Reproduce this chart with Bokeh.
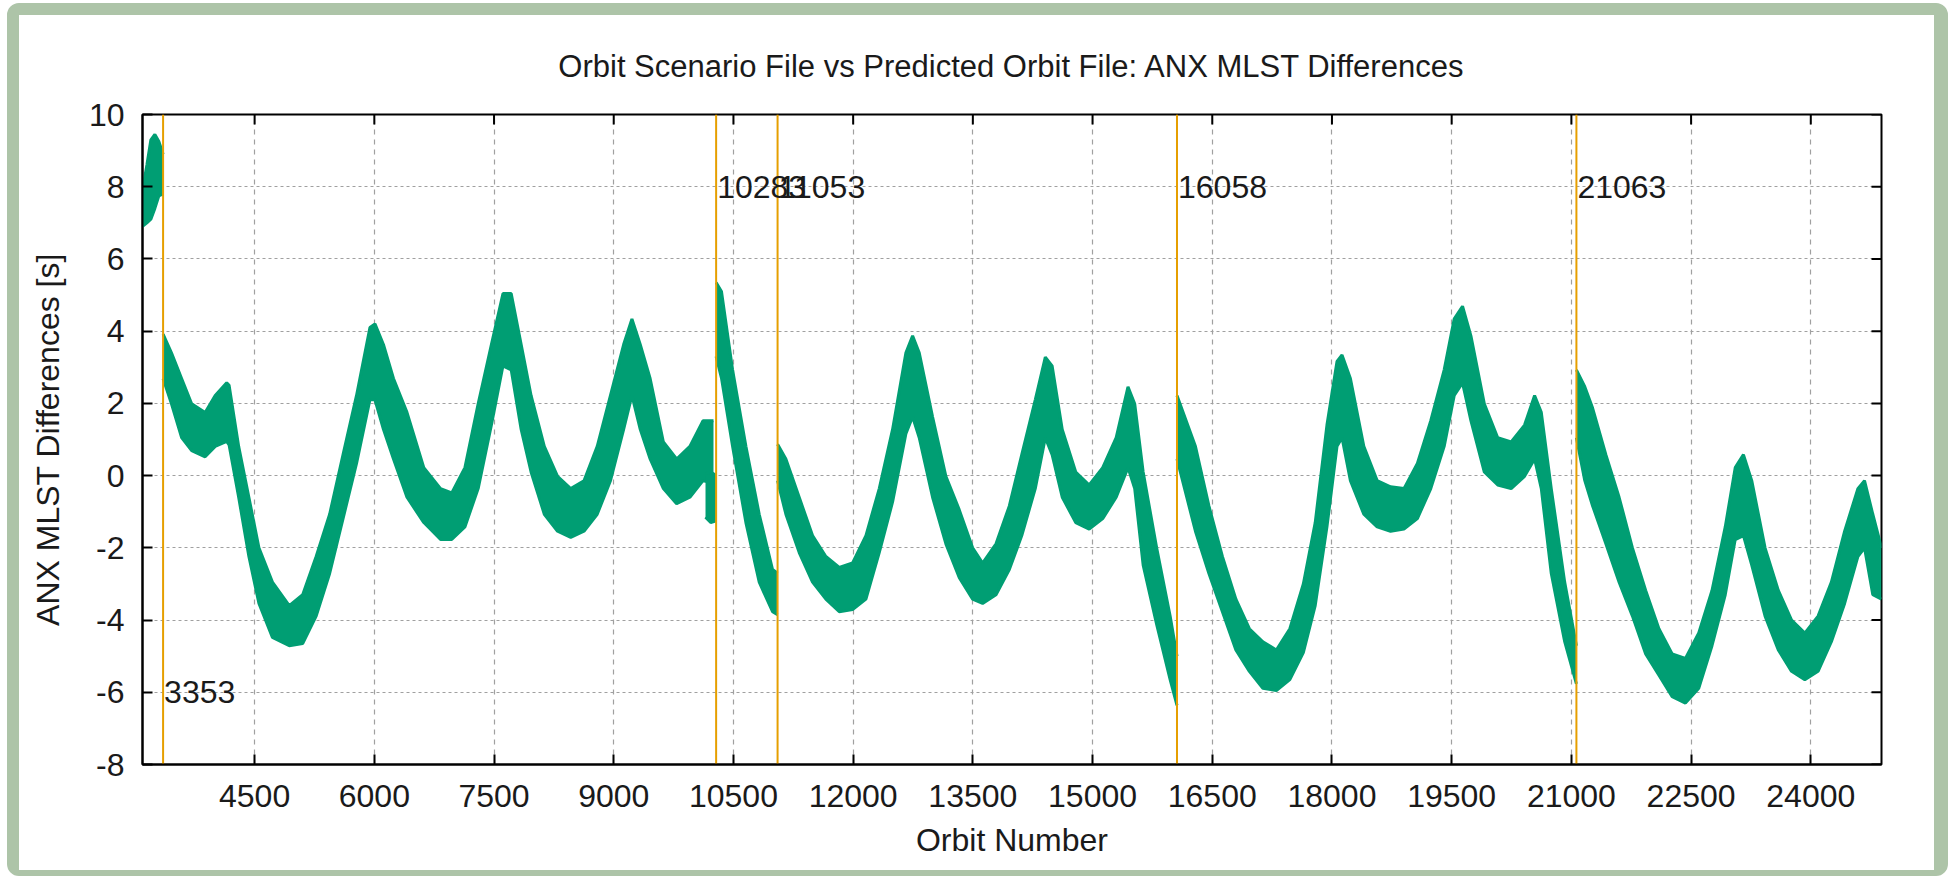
import math
from bokeh.plotting import figure
from bokeh.models import Range1d, FixedTicker, Title, ColumnDataSource
from bokeh.core.properties import value
from bokeh.embed import file_html
from bokeh.resources import INLINE

# ---------------- data ----------------
title_text = "Orbit Scenario File vs Predicted Orbit File: ANX MLST Differences"
x_label = "Orbit Number"
y_label = "ANX MLST Differences [s]"

x_ticks = [4500, 6000, 7500, 9000, 10500, 12000, 13500, 15000, 16500, 18000, 19500, 21000, 22500, 24000]
y_ticks = [-8, -6, -4, -2, 0, 2, 4, 6, 8, 10]

# orange marker lines and their labels
vline_orbits = [3353, 10283, 11053, 16058, 21063]
vline_label_y = [-6, 8, 8, 8, 8]

# band envelopes (upper / lower edge of the dense cloud of points) per segment
segA_orbit = [3095, 3150, 3200, 3250, 3300, 3353]
segA_upper = [7.9, 8.6, 9.3, 9.45, 9.25, 8.9]
segA_lower = [6.9, 7.0, 7.1, 7.4, 7.75, 7.8]

segB_orbit = [3353, 3458, 3585, 3711, 3880, 4006, 4150, 4180, 4300, 4428, 4554, 4723, 4934, 5102,
              5271, 5440, 5608, 5777, 5945, 6008, 6114, 6240, 6409, 6620, 6830, 6970, 7135, 7301,
              7467, 7612, 7715, 7840, 7964, 8130, 8296, 8461, 8627, 8793, 8959, 9124, 9228, 9332,
              9456, 9622, 9788, 9954, 10119, 10250]
segB_upper = [3.92, 3.40, 2.69, 1.99, 1.75, 2.22, 2.57, 2.5, 0.81, -0.6, -2.0, -2.95, -3.6, -3.3,
              -2.24, -1.07, 0.58, 2.22, 4.1, 4.2, 3.63, 2.69, 1.75, 0.22, -0.36, -0.48, 0.22, 1.99,
              3.63, 5.04, 5.04, 3.63, 2.22, 0.81, -0.02, -0.36, -0.14, 0.81, 2.22, 3.63, 4.34, 3.63,
              2.69, 0.93, 0.46, 0.81, 1.52, 1.52]
segB_lower = [2.69, 1.99, 1.05, 0.69, 0.52, 0.81, 0.95, 0.85, -0.6, -2.24, -3.54, -4.48, -4.71, -4.65,
              -3.89, -2.71, -1.19, 0.34, 2.1, 2.1, 1.28, 0.46, -0.6, -1.3, -1.77, -1.77, -1.42, -0.36,
              1.4, 3.04, 2.93, 1.28, 0.1, -1.07, -1.54, -1.71, -1.54, -1.07, -0.14, 1.28, 2.22, 1.28,
              0.46, -0.36, -0.78, -0.6, -0.14, -0.2]

segC_orbit = [10150, 10215, 10283]
segC_upper = [0.05, 0.1, 0.0]
segC_lower = [-1.15, -1.3, -1.25]

segD_orbit = [10283, 10350, 10489, 10656, 10823, 10990, 11053]
segD_upper = [5.35, 5.1, 2.93, 0.81, -1.07, -2.6, -2.7]
segD_lower = [3.3, 2.7, 0.81, -1.3, -2.95, -3.77, -3.85]

segE_orbit = [11053, 11157, 11324, 11491, 11658, 11826, 11993, 12160, 12327, 12494, 12661, 12745,
              12828, 12995, 13162, 13330, 13497, 13622, 13790, 13957, 14113, 14282, 14408, 14493,
              14620, 14789, 14958, 15127, 15296, 15444, 15528, 15634, 15803, 15972, 16058]
segE_upper = [0.87, 0.46, -0.6, -1.66, -2.24, -2.54, -2.42, -1.66, -0.36, 1.28, 3.4, 3.87,
              3.4, 1.63, -0.02, -0.95, -2.0, -2.42, -1.89, -0.84, 0.58, 2.1, 3.28, 3.04,
              1.28, 0.1, -0.26, 0.22, 1.05, 2.46, 1.99, 0.1, -2.0, -3.89, -5.0]
segE_lower = [-0.14, -1.07, -2.13, -2.95, -3.42, -3.77, -3.71, -3.42, -2.13, -0.73, 1.16, 1.63,
              1.05, -0.6, -1.89, -2.83, -3.42, -3.54, -3.3, -2.6, -1.66, -0.36, 1.05, 0.58,
              -0.6, -1.3, -1.48, -1.19, -0.6, 0.22, -0.36, -2.48, -4.12, -5.65, -6.36]

segF_orbit = [16058, 16289, 16458, 16627, 16796, 16965, 17134, 17303, 17472, 17641, 17790, 17937,
              18063, 18126, 18231, 18399, 18566, 18734, 18902, 19070, 19238, 19406, 19532, 19636,
              19741, 19909, 20077, 20245, 20413, 20539, 20623, 20748, 20916, 21063]
segF_upper = [2.22, 0.81, -0.84, -2.24, -3.42, -4.24, -4.6, -4.83, -4.24, -3.0, -1.3, 1.4,
              3.16, 3.34, 2.69, 0.81, -0.14, -0.31, -0.36, 0.34, 1.52, 2.93, 4.34, 4.69,
              3.87, 1.99, 1.05, 0.93, 1.4, 2.22, 1.75, -0.36, -2.95, -4.71]
segF_lower = [0.46, -1.54, -2.71, -3.77, -4.83, -5.42, -5.89, -5.95, -5.65, -4.9, -3.6, -1.42,
              0.81, 1.05, -0.14, -1.07, -1.42, -1.54, -1.48, -1.19, -0.36, 0.81, 2.22, 2.57,
              1.52, 0.1, -0.26, -0.36, -0.02, 0.46, -0.36, -2.71, -4.6, -5.77]

segG_orbit = [21063, 21168, 21266, 21432, 21598, 21765, 21931, 22097, 22263, 22429, 22596, 22762,
              22928, 23053, 23156, 23260, 23427, 23593, 23759, 23925, 24091, 24258, 24424, 24590,
              24673, 24777, 24886]
segG_upper = [2.93, 2.46, 1.87, 0.58, -0.6, -2.0, -3.18, -4.24, -4.94, -5.06, -4.36, -3.18,
              -1.42, 0.22, 0.58, -0.14, -2.0, -3.18, -4.0, -4.36, -3.89, -2.95, -1.54, -0.36,
              -0.14, -1.07, -2.0]
segG_lower = [1.05, -0.14, -0.84, -1.89, -2.95, -3.89, -4.94, -5.53, -6.12, -6.3, -5.89, -4.71,
              -3.3, -1.77, -1.66, -2.48, -3.89, -4.83, -5.42, -5.65, -5.42, -4.6, -3.54, -2.24,
              -2.0, -3.3, -3.42]

segments = [
    (segA_orbit, segA_upper, segA_lower),
    (segB_orbit, segB_upper, segB_lower),
    (segC_orbit, segC_upper, segC_lower),
    (segD_orbit, segD_upper, segD_lower),
    (segE_orbit, segE_upper, segE_lower),
    (segF_orbit, segF_upper, segF_lower),
    (segG_orbit, segG_upper, segG_lower),
]

X_MIN, X_MAX = 3095, 24886
Y_MIN, Y_MAX = -8, 10

# ---------------- styling ----------------
FONT = "Liberation Sans"
FS = "32px"
GREEN = "#009e73"
ORANGE = "#e69f00"
TEXT = "#1a1a1a"

p = figure(width=1941, height=873,
           x_range=Range1d(X_MIN, X_MAX), y_range=Range1d(Y_MIN, Y_MAX),
           output_backend="svg", toolbar_location=None,
           min_border_left=123, min_border_right=79, min_border_top=95, min_border_bottom=124,
           background_fill_color="white", border_fill_color="white")

# green rounded frame around the whole picture
p.styles = {"border-style": "solid", "border-color": "#adc4a8",
            "border-width": "12px 14px 6px 12px", "border-radius": "12px",
            "box-sizing": "border-box", "margin-left": "7px", "margin-top": "3px"}

p.outline_line_color = "black"
p.outline_line_width = 2

# grid
p.xgrid.ticker = FixedTicker(ticks=x_ticks)
p.ygrid.ticker = FixedTicker(ticks=y_ticks)
p.xgrid.grid_line_color = "#a0a0a0"
p.ygrid.grid_line_color = "#a0a0a0"
p.xgrid.grid_line_dash = "5 5"
p.ygrid.grid_line_dash = "3 3"
p.xgrid.grid_line_width = 1.2
p.ygrid.grid_line_width = 1.2

# axes
for ax in (p.xaxis[0], p.yaxis[0]):
    ax.major_tick_in = 10
    ax.major_tick_out = 0
    ax.minor_tick_line_color = None
    ax.axis_line_width = 2
    ax.major_tick_line_width = 2
    ax.major_label_text_font = FONT
    ax.major_label_text_font_size = FS
    ax.major_label_text_color = TEXT
    ax.axis_label_text_font = FONT
    ax.axis_label_text_font_size = FS
    ax.axis_label_text_font_style = "normal"
    ax.axis_label_text_color = TEXT

p.xaxis.ticker = FixedTicker(ticks=x_ticks)
p.yaxis.ticker = FixedTicker(ticks=y_ticks)
p.yaxis.major_label_overrides = {t: str(t) for t in y_ticks}
p.xaxis.axis_label = x_label
p.yaxis.axis_label = y_label
p.xaxis.major_label_standoff = 20
p.xaxis.axis_label_standoff = 12
p.yaxis.major_label_standoff = 18
p.yaxis.axis_label_standoff = 20

p.add_layout(Title(text=title_text, align="center", text_font=FONT, text_font_size="31px",
                   text_font_style="normal", text_color=TEXT, standoff=62), "above")

# mirrored tick marks on the top and right edges (half of each dash is clipped by the frame)
p.scatter(x=x_ticks, y=[Y_MAX] * len(x_ticks), marker="dash", size=20, angle=math.pi / 2,
          line_color="black", line_width=2)
p.scatter(x=[X_MAX] * len(y_ticks), y=y_ticks, marker="dash", size=20, angle=0,
          line_color="black", line_width=2)

# data band
for orb, up, lo in segments:
    src = ColumnDataSource(dict(x=orb, up=up, lo=lo))
    p.varea(x="x", y1="lo", y2="up", source=src, fill_color=GREEN)
    p.line(x="x", y="up", source=src, line_color=GREEN, line_width=3)
    p.line(x="x", y="lo", source=src, line_color=GREEN, line_width=3)

# orange lines and labels
vsrc = ColumnDataSource(dict(x=vline_orbits, ylab=vline_label_y,
                             lab=[str(v) for v in vline_orbits],
                             y0=[Y_MIN] * len(vline_orbits), y1=[Y_MAX] * len(vline_orbits)))
p.segment(x0="x", y0="y0", x1="x", y1="y1", source=vsrc, line_color=ORANGE, line_width=2)
p.text(x="x", y="ylab", text="lab", source=vsrc, text_font=value(FONT), text_font_size=FS,
       text_baseline="middle", text_align="left", text_color=TEXT, x_offset=1)

open("out.html", "w").write(file_html(p, INLINE))
